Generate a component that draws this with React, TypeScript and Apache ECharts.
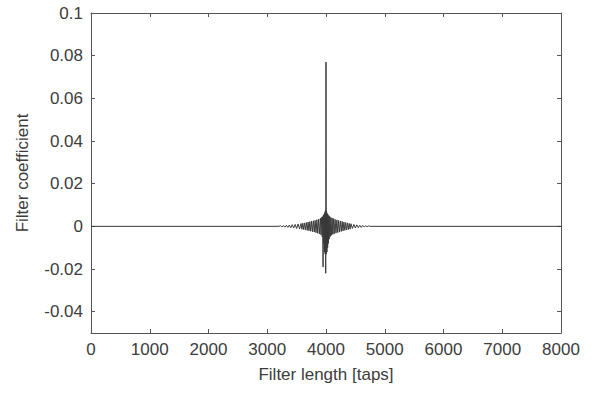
import React, { useEffect, useRef } from "react";
import * as echarts from "echarts";

// Tap index (x) and filter coefficient (y)
const taps = [
  0, 3200, 3225, 3250, 3275, 3300, 3325, 3350, 3375, 3400, 3425, 3450, 3475, 3500, 3525, 3550, 3575,
  3590, 3605, 3620, 3635, 3650, 3665, 3680, 3695, 3710, 3725, 3740, 3755, 3770, 3785, 3800, 3815,
  3830, 3845, 3860, 3875, 3890, 3905, 3915, 3925, 3935, 3943, 3950, 3956, 3962, 3968, 3974, 3980,
  3986, 3990, 3995, 4000, 4005, 4010, 4016, 4022, 4028, 4034, 4040, 4047, 4055, 4063, 4072, 4082,
  4092, 4104, 4116, 4128, 4140, 4155, 4170, 4185, 4200, 4215, 4230, 4245, 4260, 4275, 4290, 4305,
  4320, 4335, 4350, 4365, 4380, 4395, 4410, 4425, 4450, 4475, 4500, 4525, 4550, 4575, 4600, 4625,
  4650, 4675, 4700, 4725, 4750, 8000,
];
const coeffs = [
  0, 0, 0.0003, -0.0003, 0.0004, -0.0004, 0.0005, -0.0005, 0.0006, -0.0007, 0.0008, -0.0008, 0.0009, -0.001, 0.0011, -0.0012, 0.0013,
  -0.0014, 0.0015, -0.0015, 0.0016, -0.0017, 0.0018, -0.0019, 0.002, -0.0021, 0.0022, -0.0023, 0.0024, -0.0025, 0.0026, -0.0027, 0.0028,
  -0.003, 0.0031, -0.0033, 0.0034, -0.0036, 0.0038, -0.004, 0.0042, -0.0048, 0.0046, -0.019, 0.0052, -0.008, 0.0058, -0.012, 0.0065,
  -0.013, 0.0075, -0.022, 0.077, -0.013, 0.007, -0.012, 0.006, -0.01, 0.0055, -0.008, 0.005, -0.006, 0.0046, -0.0048, 0.0042,
  -0.0042, 0.0039, -0.0038, 0.0036, -0.0035, 0.0033, -0.0032, 0.003, -0.0029, 0.0028, -0.0027, 0.0025, -0.0024, 0.0023, -0.0022, 0.002,
  -0.0019, 0.0018, -0.0017, 0.0016, -0.0015, 0.0014, -0.0013, 0.0012, -0.001, 0.0009, -0.0008, 0.0007, -0.0006, 0.0005, -0.0005, 0.0004,
  -0.0003, 0.0003, -0.0002, 0.0002, 0, 0,
];
const yTicks = [-0.04, -0.02, 0, 0.02, 0.04, 0.06, 0.08, 0.1];
const yMin = -0.05;
const yMax = 0.1;
const xMin = 0;
const xMax = 8000;

const FONT = "'Liberation Sans', Arial, Helvetica, sans-serif";
const TEXT = "#3c3c3c";
const AXIS = "#555";

export default function App() {
  const ref = useRef<HTMLDivElement>(null);
  useEffect(() => {
    if (!ref.current) return;
    const chart = echarts.init(ref.current, undefined, { renderer: "svg" });
    const tick = { show: true, inside: true, length: 4, lineStyle: { color: AXIS } };
    const line = { show: true, onZero: false, lineStyle: { color: AXIS, width: 1 } };
    chart.setOption({
      animation: false,
      backgroundColor: "#fff",
      grid: { left: 91, right: 50, top: 13, bottom: 62, containLabel: false },
      xAxis: [
        {
          type: "value",
          position: "bottom",
          min: xMin,
          max: xMax,
          interval: 1000,
          axisLine: line,
          axisTick: tick,
          splitLine: { show: false },
          axisLabel: {
            color: TEXT,
            fontSize: 17,
            fontFamily: FONT,
            margin: 8,
            formatter: (v: number) => String(v),
          },
          name: "Filter length [taps]",
          nameLocation: "middle",
          nameGap: 33,
          nameTextStyle: { color: TEXT, fontSize: 17, fontFamily: FONT },
        },
        {
          type: "value",
          position: "top",
          min: xMin,
          max: xMax,
          interval: 1000,
          axisLine: line,
          axisTick: tick,
          axisLabel: { show: false },
          splitLine: { show: false },
        },
      ],
      yAxis: [
        {
          type: "value",
          position: "left",
          min: yMin,
          max: yMax,
          axisLine: line,
          axisTick: { ...tick, customValues: yTicks },
          splitLine: { show: false },
          axisLabel: {
            color: TEXT,
            fontSize: 17,
            fontFamily: FONT,
            margin: 8,
            customValues: yTicks,
          },
          name: "Filter coefficient",
          nameLocation: "middle",
          nameGap: 60,
          nameTextStyle: { color: TEXT, fontSize: 17, fontFamily: FONT },
        },
        {
          type: "value",
          position: "right",
          min: yMin,
          max: yMax,
          axisLine: line,
          axisTick: { ...tick, customValues: yTicks },
          axisLabel: { show: false },
          splitLine: { show: false },
        },
      ],
      series: [
        {
          type: "line",
          data: taps.map((t, i) => [t, coeffs[i]]),
          showSymbol: false,
          lineStyle: { color: "#3a3a3a", width: 1 },
          xAxisIndex: 0,
          yAxisIndex: 0,
        },
      ],
    });
    return () => chart.dispose();
  }, []);
  return (
    <div
      ref={ref}
      style={{ position: "fixed", left: 0, top: 0, width: 611, height: 395 }}
    />
  );
}
